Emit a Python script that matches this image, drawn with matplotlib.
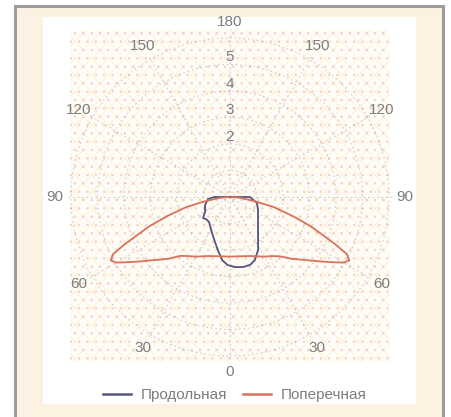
import matplotlib
matplotlib.use("Agg")
import matplotlib.pyplot as plt
import numpy as np
from matplotlib.patches import Rectangle
from matplotlib.lines import Line2D

plt.rcParams['font.family'] = ['Liberation Sans', 'DejaVu Sans']
plt.rcParams['hatch.linewidth'] = 0.6

# Light distribution, angle from nadir in degrees (positive = right side), intensity
angles_long = [-90, -85, -72, -59, -52, -47.5, -40, -30, -20, -13, -7, -2,
               4, 10.5, 16.5, 21.5, 28, 36.5, 50.5, 65, 77.5, 90]
values_long = [0.57, 0.83, 0.99, 1.10, 1.29, 1.23, 1.23, 1.43, 1.73, 2.05, 2.40, 2.57,
               2.65, 2.69, 2.67, 2.56, 2.26, 1.78, 1.37, 1.17, 1.04, 0.75]

angles_trans = [-90, -85, -80, -77, -73, -70, -66, -64, -62, -60, -58, -55, -50,
                -45, -40, -35, -30, -20, -10, 0, 10, 20, 30, 35, 40, 45, 50,
                55, 58, 60, 62, 64, 66, 70, 73, 77, 80, 85, 90]
values_trans = [0.05, 0.40, 1.00, 1.70, 2.50, 3.25, 4.30, 4.90, 5.10, 4.95, 4.65, 4.25, 3.70,
                3.30, 2.90, 2.72, 2.60, 2.37, 2.27, 2.25, 2.27, 2.37, 2.60, 2.72, 2.92, 3.30, 3.70,
                4.25, 4.65, 4.95, 5.10, 4.90, 4.30, 3.25, 2.50, 1.70, 1.00, 0.40, 0.05]

series_names = ['Продольная', 'Поперечная']
series_colors = ['#55557f', '#d8725c']

theta_ticks = list(range(0, 360, 30))
theta_labels = [str(a if a <= 180 else 360 - a) for a in theta_ticks]
r_ticks = [1, 2, 3, 4, 5, 6]
r_labels = ['', '2', '3', '4', '5', '']

W, H = 452, 417
fig = plt.figure(figsize=(W / 100, H / 100), dpi=100)
fig.patch.set_facecolor('white')

# Background: frame, panel and textured plotting area (pixel coordinates)
bg = fig.add_axes([0, 0, 1, 1])
bg.set_xlim(0, W)
bg.set_ylim(H, 0)
bg.axis('off')
bg.add_patch(Rectangle((15.5, 5.5), 428, 420, facecolor='#fdf1e1',
                       edgecolor='#9c9c9c', linewidth=2.2))
bg.add_patch(Rectangle((43, 17), 373, 387, facecolor='white', edgecolor='none'))
bg.add_patch(Rectangle((70, 30), 320, 332, facecolor='#fffdf8', edgecolor='none'))
bg.add_patch(Rectangle((70, 30), 320, 332, facecolor='none', edgecolor='#fcf0d2',
                       hatch='xx', linewidth=0))
bg.add_patch(Rectangle((70, 30), 320, 332, facecolor='none', edgecolor='#f7cfc4',
                       hatch='..', linewidth=0))

# Polar axes centred on the textured area
cx, cy, unit = 230, 197, 26.5
rmax = 6.2
R = rmax * unit
ax = fig.add_axes([(cx - R) / W, 1 - (cy + R) / H, 2 * R / W, 2 * R / H],
                  projection='polar')
ax.patch.set_alpha(0)
ax.spines['polar'].set_visible(False)
ax.set_theta_zero_location('S')
ax.set_theta_direction(1)
ax.set_rlim(0, rmax)
ax.set_rticks(r_ticks)
ax.set_yticklabels([])
ax.set_xticks(np.deg2rad(theta_ticks))
ax.set_xticklabels([])
ax.grid(color='#a0a0a0', linestyle=(0, (1.5, 2.5)), linewidth=0.8, alpha=0.5)

label_color = '#7d7d7d'
for a, lab in zip(theta_ticks, theta_labels):
    ax.text(np.deg2rad(a), 6.6, lab, ha='center', va='center', fontsize=11,
            color=label_color, clip_on=False)
for r, lab in zip(r_ticks, r_labels):
    if lab:
        ax.text(np.pi, r + 0.28, lab, ha='center', va='center', fontsize=11,
                color=label_color)

ax.plot(np.deg2rad(angles_long + [angles_long[0]]), values_long + [values_long[0]],
        color=series_colors[0], linewidth=1.3)
ax.plot(np.deg2rad(angles_trans), values_trans, color=series_colors[1], linewidth=1.3)

handles = [Line2D([], [], color=c, linewidth=1.8) for c in series_colors]
leg = fig.legend(handles, series_names, loc='center', bbox_to_anchor=(235 / W, 1 - 395 / H),
                 ncol=2, frameon=False, fontsize=11, handlelength=1.85,
                 handletextpad=0.65, columnspacing=1.0)
for t in leg.get_texts():
    t.set_color(label_color)

fig.savefig('out.png', dpi=100)
